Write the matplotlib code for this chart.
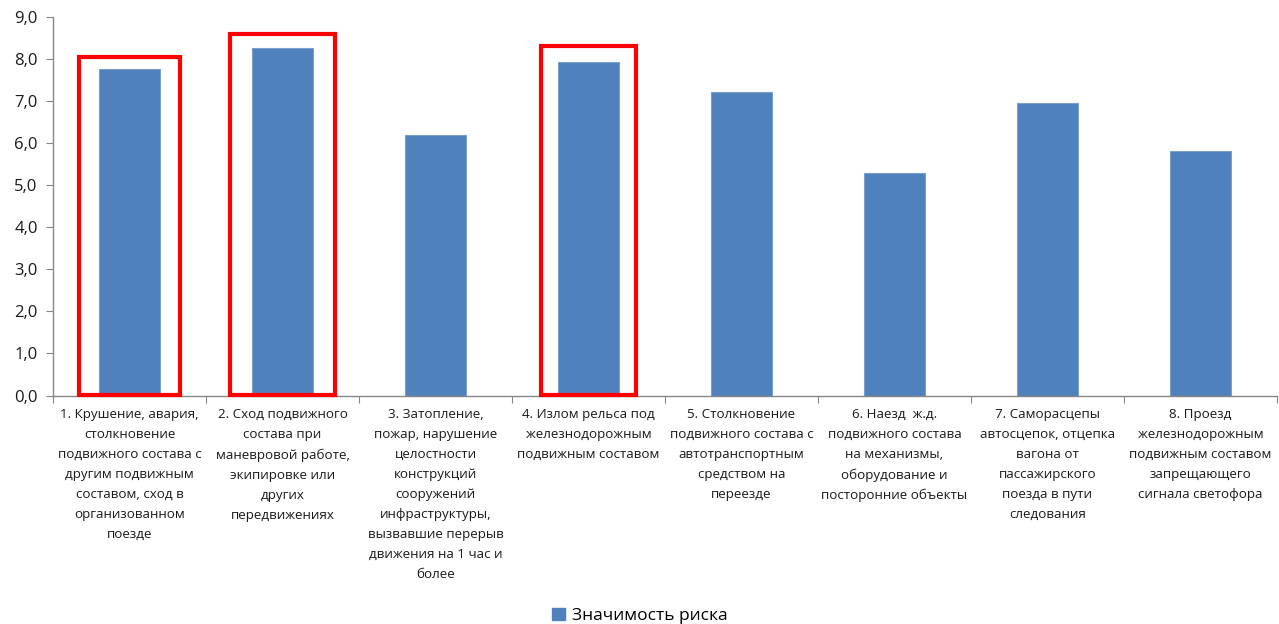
import numpy as np
import matplotlib.pyplot as plt
from matplotlib.patches import Rectangle, Patch

categories = [
    "1. Крушение, авария,\nстолкновение\nподвижного состава с\nдругим подвижным\nсоставом, сход в\nорганизованном\nпоезде",
    "2. Сход подвижного\nсостава при\nманевровой работе,\nэкипировке или\nдругих\nпередвижениях",
    "3. Затопление,\nпожар, нарушение\nцелостности\nконструкций\nсооружений\nинфраструктуры,\nвызвавшие перерыв\nдвижения на 1 час и\nболее",
    "4. Излом рельса под\nжелезнодорожным\nподвижным составом",
    "5. Столкновение\nподвижного состава с\nавтотранспортным\nсредством на\nпереезде",
    "6. Наезд  ж.д.\nподвижного состава\nна механизмы,\nоборудование и\nпосторонние объекты",
    "7. Саморасцепы\nавтосцепок, отцепка\nвагона от\nпассажирского\nпоезда в пути\nследования",
    "8. Проезд\nжелезнодорожным\nподвижным составом\nзапрещающего\nсигнала светофора",
]
risk = [7.75, 8.25, 6.18, 7.92, 7.20, 5.28, 6.94, 5.81]
series_name = "Значимость риска"
highlighted = [0, 1, 3]
yticks = [0, 1, 2, 3, 4, 5, 6, 7, 8, 9]

plt.rcParams["font.family"] = ["Open Sans", "DejaVu Sans"]

fig = plt.figure(figsize=(12.79, 6.24), dpi=100)
ax = fig.add_axes([53 / 1279, 1 - 395.6 / 624, 1224 / 1279, (395.6 - 16.5) / 624])

bar_color = "#4F81BD"
x = np.arange(len(categories))
ax.bar(x, risk, width=0.4, color=bar_color, edgecolor="#7A9FCF", linewidth=0.8, zorder=2)

# red highlight frames around selected bars
box_half = {0: 0.33, 1: 0.345, 3: 0.31}
box_pad = {0: 0.29, 1: 0.34, 3: 0.39}
for i in highlighted:
    hw = box_half[i]
    ax.add_patch(Rectangle((i - hw, 0.02), 2 * hw, risk[i] + box_pad[i] - 0.02,
                           fill=False, edgecolor="#FF0000", linewidth=3.0,
                           clip_on=False, zorder=3))

ax.set_xlim(-0.5, len(categories) - 0.5)
ax.set_ylim(0, 9)
ax.set_yticks(yticks)
ax.set_yticklabels([f"{v:.1f}".replace(".", ",") for v in yticks], fontsize=12, color="#1a1a1a")

ax.set_xticks(np.arange(-0.5, len(categories), 1))
ax.set_xticklabels([])
ax.set_xticks(x, minor=True)
ax.set_xticklabels(categories, minor=True, fontsize=9.6, color="#1a1a1a", linespacing=1.7)
ax.tick_params(axis="x", which="minor", length=0, pad=9)
ax.tick_params(axis="x", which="major", length=5, color="#868686", direction="out")
ax.tick_params(axis="y", length=5, color="#868686", direction="out", pad=6)

for side in ["top", "right"]:
    ax.spines[side].set_visible(False)
for side in ["left", "bottom"]:
    ax.spines[side].set_color("#868686")
    ax.spines[side].set_linewidth(1.0)

fig.legend(handles=[Patch(facecolor=bar_color, edgecolor=bar_color)], labels=[series_name],
           loc="lower center", bbox_to_anchor=(0.5, -0.025), frameon=False,
           fontsize=12.5, handlelength=0.75, handleheight=0.75, handletextpad=0.4)

fig.savefig("out.png", dpi=100)
